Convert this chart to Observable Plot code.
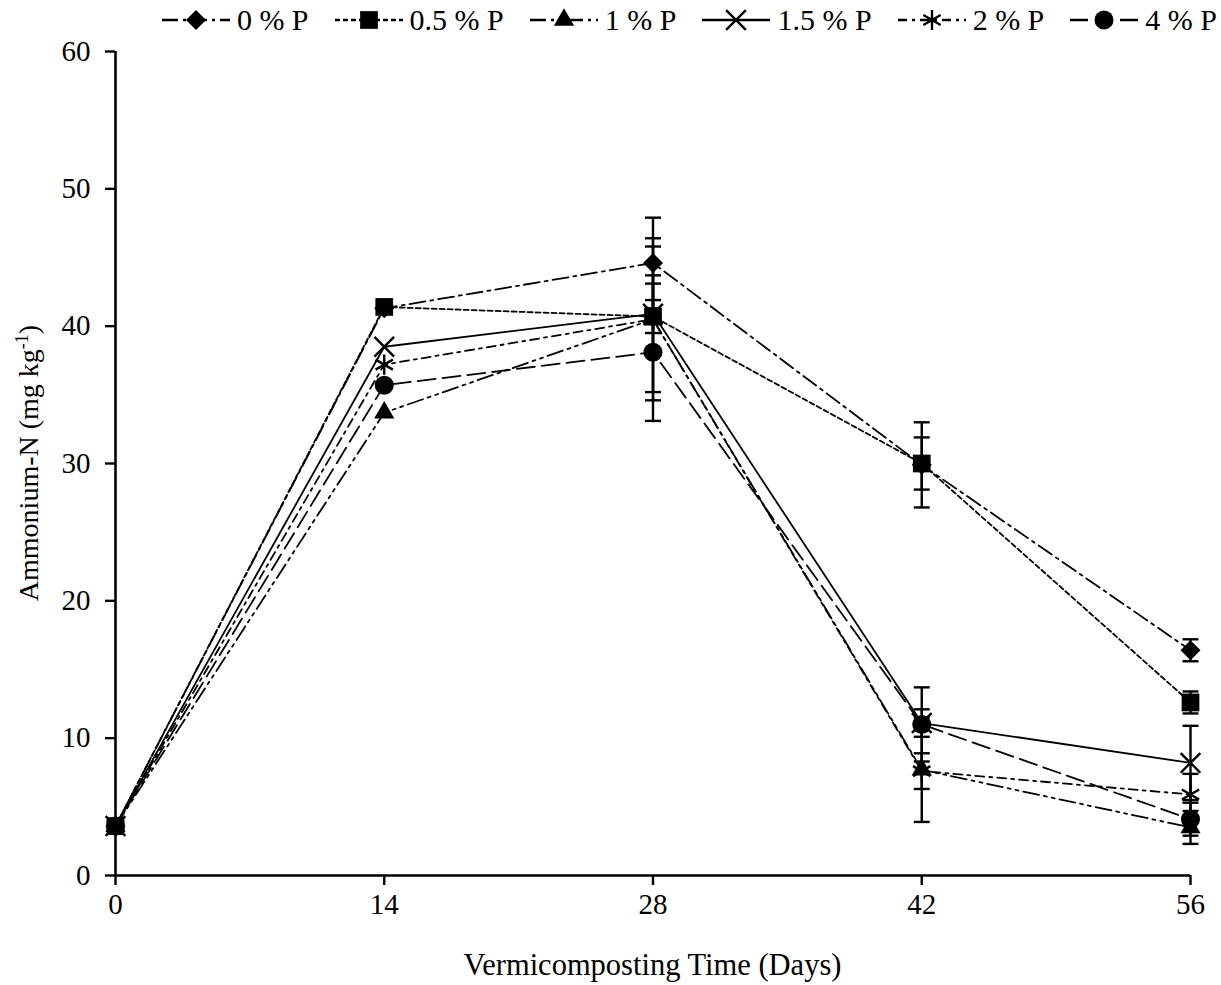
<!DOCTYPE html>
<html><head><meta charset="utf-8">
<script src="https://cdn.jsdelivr.net/npm/d3@7"></script>
<script src="https://cdn.jsdelivr.net/npm/@observablehq/plot@0.6"></script>
<style>
body{margin:0;background:#fff;font-family:"Liberation Serif","Times New Roman",serif;}
#legend{height:40px;display:flex;align-items:center;justify-content:flex-end;padding-right:4px;gap:24px;font-size:30px;color:#000;}
.item{display:flex;align-items:center;white-space:pre;}
.item svg{display:block;margin-right:5px;}
#chart svg{display:block;overflow:visible;}
</style></head><body>
<div id="legend"></div>
<div id="chart"></div>
<script>
// ---- data ----
const days = [0, 14, 28, 42, 56];
const seriesNames = ["0 % P", "0.5 % P", "1 % P", "1.5 % P", "2 % P", "4 % P"];
const p0  = [3.6, 41.3, 44.6, 29.9, 16.4];
const p05 = [3.6, 41.4, 40.7, 30.0, 12.6];
const p1  = [3.6, 33.7, 40.5, 7.7, 3.5];
const p15 = [3.6, 38.5, 40.9, 11.1, 8.2];
const p2  = [3.6, 37.2, 40.5, 7.6, 5.9];
const p4  = [3.6, 35.7, 38.1, 11.0, 4.1];
const e0  = [0, 0, 3.3, 3.1, 0.8];
const e05 = [0, 0, 1.2, 1.9, 0.8];
const e1  = [0, 0, 5.9, 3.8, 1.2];
const e15 = [0, 0, 2.8, 1.0, 2.7];
const e2  = [0, 0, 5.3, 1.3, 1.5];
const e4  = [0, 0, 5.0, 2.7, 1.2];
const yTicks = [0, 10, 20, 30, 40, 50, 60];
const xLabel = "Vermicomposting Time (Days)";

const values = [p0, p05, p1, p15, p2, p4];
const errs = [e0, e05, e1, e15, e2, e4];

// ---- styles ----
const styles = [
  {symbol: "diamond2", r: 9, fill: "black", dash: "16,5,3,5"},
  {symbol: "square", r: 10, fill: "black", dash: "5,3"},
  {symbol: "triangle", r: 7.5, fill: "black", dash: "16,5,3,5,3,5"},
  {symbol: "times", r: 9, fill: "none", dash: null},
  {symbol: "asterisk", r: 9.5, fill: "none", dash: "9,5,3,5"},
  {symbol: "circle", r: 9.5, fill: "black", dash: "18,7"}
];
const drawOrder = [0, 2, 3, 4, 5, 1];

const rows = [];
seriesNames.forEach((s, i) => days.forEach((d, j) =>
  rows.push({series: s, idx: i, day: d, value: values[i][j], err: errs[i][j]})));
const errRows = rows.filter(d => d.err > 0);
const capRows = errRows.flatMap(d => [{day: d.day, y: d.value + d.err}, {day: d.day, y: d.value - d.err}]);

const capSymbol = {draw(ctx, size) { const w = Math.sqrt(size) / 2; ctx.moveTo(-w, 0); ctx.lineTo(w, 0); }};

const marks = [];
drawOrder.forEach(i => {
  const st = styles[i];
  marks.push(Plot.line(rows.filter(d => d.idx === i), {x: "day", y: "value", stroke: "black", strokeWidth: 1.8, strokeDasharray: st.dash}));
});
marks.push(Plot.ruleX(errRows, {x: "day", y1: d => d.value - d.err, y2: d => d.value + d.err, stroke: "black", strokeWidth: 2.4}));
marks.push(Plot.dot(capRows, {x: "day", y: "y", symbol: capSymbol, r: 9, stroke: "black", strokeWidth: 2.4}));
drawOrder.forEach(i => {
  const st = styles[i];
  const filled = st.fill !== "none";
  marks.push(Plot.dot(rows.filter(d => d.idx === i), {x: "day", y: "value", symbol: st.symbol, r: st.r,
    fill: filled ? "black" : "none", stroke: filled ? "none" : "black", strokeWidth: filled ? 0 : 2.4}));
});

const chart = Plot.plot({
  width: 1221, height: 945,
  marginLeft: 115, marginRight: 31, marginTop: 11, marginBottom: 110,
  style: {fontFamily: "'Liberation Serif','Times New Roman',serif", fontSize: "29px", color: "black", background: "white"},
  x: {domain: [0, 56]},
  y: {domain: [0, 60]},
  marks: [
    Plot.axisX({ticks: days, tickSize: 10, tickPadding: 8, tickFormat: d => d, label: null, fontSize: 29, strokeWidth: 2.4}),
    Plot.axisY({ticks: yTicks, tickSize: 10, tickPadding: 15, label: null, fontSize: 29, strokeWidth: 2.4}),
    ...marks,
    Plot.ruleX([0], {stroke: "black", strokeWidth: 2.6}),
    Plot.ruleY([0], {stroke: "black", strokeWidth: 2.6})
  ]
});
document.getElementById("chart").appendChild(chart);

// axis titles
const svg = d3.select(chart);
svg.append("text").attr("x", (115 + 1190) / 2).attr("y", 935).attr("text-anchor", "middle")
  .attr("font-size", 30.5).attr("fill", "black").text(xLabel);
const yl = svg.append("text").attr("transform", "translate(38,423) rotate(-90)").attr("text-anchor", "middle")
  .attr("font-size", 28).attr("fill", "black");
yl.append("tspan").text("Ammonium-N (mg kg");
yl.append("tspan").attr("dy", -10).attr("font-size", 18).text("-1");
yl.append("tspan").attr("dy", 10).text(")");

// legend
const legend = d3.select("#legend");
const typeMap = {diamond2: d3.symbolDiamond2, square: d3.symbolSquare, triangle: d3.symbolTriangle,
  times: d3.symbolTimes, asterisk: d3.symbolAsterisk, circle: d3.symbolCircle};
seriesNames.forEach((s, i) => {
  const st = styles[i];
  const item = legend.append("div").attr("class", "item");
  const ls = item.append("svg").attr("width", 72).attr("height", 30);
  ls.append("line").attr("x1", 2).attr("x2", 70).attr("y1", 15).attr("y2", 15)
    .attr("stroke", "black").attr("stroke-width", 2.4).attr("stroke-dasharray", st.dash);
  const filled = st.fill !== "none";
  ls.append("path").attr("transform", "translate(36,15)")
    .attr("d", d3.symbol(typeMap[st.symbol], Math.PI * st.r * st.r)())
    .attr("fill", filled ? "black" : "none").attr("stroke", filled ? "none" : "black").attr("stroke-width", 2.4);
  item.append("span").text(s);
});
</script>
</body></html>
